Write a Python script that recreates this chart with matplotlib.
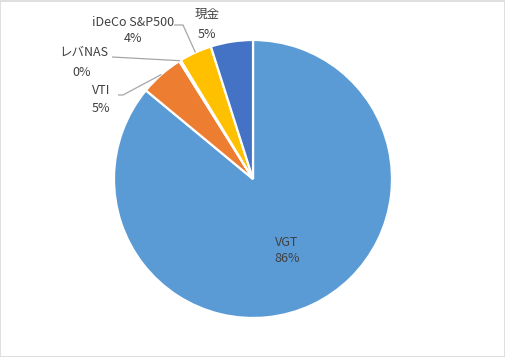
import matplotlib
matplotlib.use("Agg")
import matplotlib.pyplot as plt
import numpy as np
from matplotlib.patches import Rectangle

plt.rcParams['font.family'] = ['Noto Sans CJK JP', 'DejaVu Sans']

categories = ['VGT', 'VTI', 'レバNAS', 'iDeCo S&P500', '現金']
values = [86.0, 5.1, 0.2, 3.8, 4.9]
colors = ['#5B9BD5', '#ED7D31', '#A5A5A5', '#FFC000', '#4472C4']

W, H = 506, 357
fig = plt.figure(figsize=(W / 100, H / 100), dpi=100)
fig.patches.append(Rectangle((0.5 / W, 0.5 / H), 1 - 1.5 / W, 1 - 1.5 / H, transform=fig.transFigure,
                             fill=False, edgecolor='#D9D9D9', linewidth=1.2))

cx, cy, R = 253, 179, 139  # pixel centre / radius
ax = fig.add_axes([0, 0, 1, 1])
wedges, _ = ax.pie(values, colors=colors, startangle=90, counterclock=False,
                   wedgeprops=dict(edgecolor='white', linewidth=1.6))
ax.set_aspect('auto')
ax.set_xlim(-cx / R, (W - cx) / R)
ax.set_ylim(-(H - cy) / R, cy / R)
ax.axis('off')

def px(x, y):
    return ((x - cx) / R, (cy - y) / R)

total = sum(values)
pcts = [f"{round(v / total * 100):.0f}%" for v in values]
tcol = '#404040'
fs = 9

def mid_point(i, r=1.0):
    w = wedges[i]
    ang = np.deg2rad((w.theta1 + w.theta2) / 2)
    return (r * np.cos(ang), r * np.sin(ang))

# VGT label inside
ax.text(*px(287, 242), categories[0], ha='center', va='center', fontsize=fs, color=tcol)
ax.text(*px(287, 258), pcts[0], ha='center', va='center', fontsize=fs, color=tcol)

# 現金
ax.text(*px(207, 14), categories[4], ha='center', va='center', fontsize=fs, color=tcol)
ax.text(*px(207, 35), pcts[4], ha='center', va='center', fontsize=fs, color=tcol)

# iDeCo
ax.text(*px(133, 22), categories[3], ha='center', va='center', fontsize=fs, color=tcol)
ax.text(*px(133, 39), pcts[3], ha='center', va='center', fontsize=fs, color=tcol)

# レバNAS
ax.text(*px(84, 52), categories[2], ha='center', va='center', fontsize=fs, color=tcol)
ax.text(*px(82, 73), pcts[2], ha='center', va='center', fontsize=fs, color=tcol)

# VTI
ax.text(*px(101, 90), categories[1], ha='center', va='center', fontsize=fs, color=tcol)
ax.text(*px(101, 108), pcts[1], ha='center', va='center', fontsize=fs, color=tcol)

lc = '#A6A6A6'
# leader lines
def leader(pts_px, i):
    pts = [px(*p) for p in pts_px] + [mid_point(i)]
    xs, ys = zip(*pts)
    ax.plot(xs, ys, color=lc, linewidth=0.9, solid_capstyle='butt')

leader([(174, 25), (183, 25)], 3)
leader([(112, 57)], 2)
leader([(118, 95), (123, 95)], 1)

fig.savefig('out.png', dpi=100)
